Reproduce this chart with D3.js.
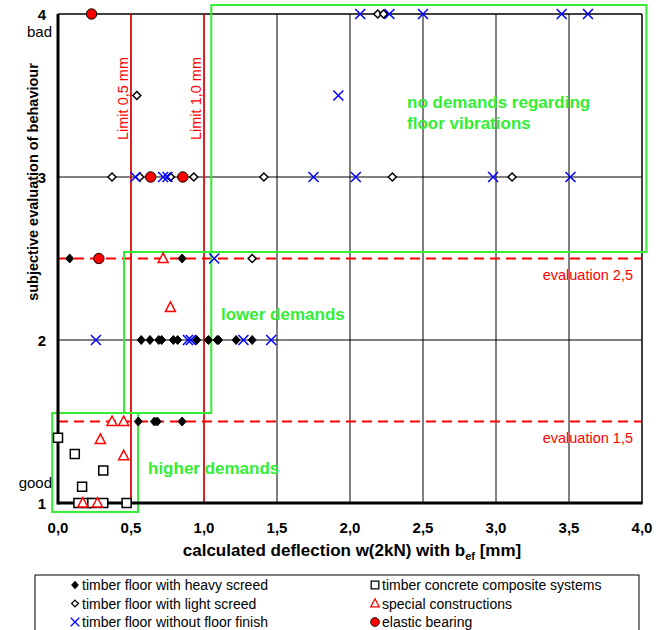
<!DOCTYPE html>
<html>
<head>
<meta charset="utf-8">
<script src="https://cdn.jsdelivr.net/npm/d3@7"></script>
<style>
  body { margin: 0; background: #fff; }
  svg { display: block; font-family: "Liberation Sans", Arial, sans-serif; }
</style>
</head>
<body>
<div id="chart"></div>
<script>
// x ticks and y ticks
var xTicks = [0, 0.5, 1, 1.5, 2, 2.5, 3, 3.5, 4];
var yTicks = [1, 2, 3, 4];

// series as [deflection, evaluation]
var heavyScreed = [
  [0.08, 2.5], [0.85, 2.5],
  [0.57, 2], [0.63, 2], [0.69, 2], [0.71, 2], [0.79, 2], [0.82, 2], [0.95, 2],
  [1.03, 2], [1.09, 2], [1.10, 2], [1.22, 2], [1.33, 2],
  [0.55, 1.5], [0.66, 1.5], [0.68, 1.5], [0.85, 1.5]
];
var lightScreed = [
  [2.19, 4], [2.23, 4],
  [0.54, 3.5],
  [0.37, 3], [0.56, 3], [0.77, 3], [0.93, 3], [1.41, 3], [2.29, 3], [3.11, 3],
  [1.33, 2.5]
];
var noFinish = [
  [2.07, 4], [2.27, 4], [2.50, 4], [3.45, 4], [3.63, 4],
  [1.92, 3.5],
  [0.53, 3], [0.72, 3], [0.75, 3], [1.75, 3], [2.04, 3], [2.98, 3], [3.51, 3],
  [1.07, 2.5],
  [0.26, 2], [0.89, 2], [0.91, 2], [1.27, 2], [1.46, 2]
];
var composite = [
  [0.0, 1.4], [0.115, 1.3], [0.31, 1.2], [0.165, 1.1],
  [0.14, 1], [0.20, 1], [0.235, 1], [0.31, 1], [0.47, 1]
];
var special = [
  [0.72, 2.5], [0.77, 2.2], [0.37, 1.5], [0.45, 1.5], [0.29, 1.39], [0.45, 1.29],
  [0.17, 1], [0.27, 1]
];
var elastic = [[0.23, 4], [0.635, 3], [0.855, 3], [0.28, 2.5]];

// limit lines and zones
var limitX = [0.5, 1.0];
var limitLabels = ["Limit 0,5 mm", "Limit 1,0 mm"];
var evalY = [2.5, 1.5];
var evalLabels = ["evaluation 2,5", "evaluation 1,5"];
// zones: [x0, x1, y0, y1]
var zones = [[1.05, 4.03, 2.54, 4.055], [0.452, 1.05, 1.552, 2.54], [-0.04, 0.548, 0.945, 1.552]];

var legendItems = [
  "timber floor with heavy screed", "timber floor with light screed", "timber floor without floor finish",
  "timber concrete composite systems", "special constructions", "elastic bearing"
];

const width = 670, height = 630;
const green = "#33ee33";
const red = "#ff0000";

const svg = d3.select("#chart").append("svg")
    .attr("width", width)
    .attr("height", height);

const x = d3.scaleLinear().domain([0, 4]).range([58, 642]);
const y = d3.scaleLinear().domain([1, 4]).range([503, 14]);

// gridlines
svg.append("g").selectAll("line")
  .data(xTicks.filter(d => d > 0 && d < 4))
  .join("line")
    .attr("x1", d => x(d)).attr("x2", d => x(d))
    .attr("y1", y(4)).attr("y2", y(1))
    .attr("stroke", "#000").attr("stroke-width", 1);
svg.append("g").selectAll("line")
  .data([2, 3])
  .join("line")
    .attr("x1", x(0)).attr("x2", x(4))
    .attr("y1", d => y(d)).attr("y2", d => y(d))
    .attr("stroke", "#000").attr("stroke-width", 1);

// frame
svg.append("line").attr("x1", x(0)).attr("x2", x(4)).attr("y1", y(4)).attr("y2", y(4))
  .attr("stroke", "#000").attr("stroke-width", 1.5);
svg.append("line").attr("x1", x(4)).attr("x2", x(4)).attr("y1", y(4)).attr("y2", y(1))
  .attr("stroke", "#000").attr("stroke-width", 1.5);

// red limit lines
svg.append("g").selectAll("line")
  .data(limitX)
  .join("line")
    .attr("x1", d => x(d)).attr("x2", d => x(d))
    .attr("y1", y(4)).attr("y2", y(1))
    .attr("stroke", red).attr("stroke-width", 1.5);
svg.append("g").selectAll("text")
  .data(limitX)
  .join("text")
    .attr("transform", d => `translate(${x(d) - 3.5},${57}) rotate(-90)`)
    .attr("text-anchor", "end")
    .attr("fill", red)
    .style("font-size", "14.5px")
    .text((d, i) => limitLabels[i]);

// dashed evaluation lines
svg.append("g").selectAll("line")
  .data(evalY)
  .join("line")
    .attr("x1", x(0)).attr("x2", x(4))
    .attr("y1", d => y(d)).attr("y2", d => y(d))
    .attr("stroke", red).attr("stroke-width", 2)
    .attr("stroke-dasharray", "10,6");
svg.append("g").selectAll("text")
  .data(evalY)
  .join("text")
    .attr("x", 633)
    .attr("y", d => y(d) + 21)
    .attr("text-anchor", "end")
    .attr("fill", red)
    .style("font-size", "14.5px")
    .text((d, i) => evalLabels[i]);

// green zones
svg.append("g").selectAll("rect")
  .data(zones)
  .join("rect")
    .attr("x", d => x(d[0])).attr("y", d => y(d[3]))
    .attr("width", d => x(d[1]) - x(d[0]))
    .attr("height", d => y(d[2]) - y(d[3]))
    .attr("fill", "none")
    .attr("stroke", green).attr("stroke-width", 2);

const zoneText = svg.append("g")
  .attr("fill", green)
  .style("font-size", "17px")
  .style("font-weight", "bold");
zoneText.append("text").attr("x", 407).attr("y", 108).text("no demands regarding");
zoneText.append("text").attr("x", 407).attr("y", 129).text("floor vibrations");
zoneText.append("text").attr("x", 221).attr("y", 320).text("lower demands");
zoneText.append("text").attr("x", 148).attr("y", 474).text("higher demands");

// axes (thick left and bottom)
svg.append("line").attr("x1", x(0)).attr("x2", x(0)).attr("y1", y(4)).attr("y2", y(1) + 1.5)
  .attr("stroke", "#000").attr("stroke-width", 3);
svg.append("line").attr("x1", x(0)).attr("x2", x(4) + 0.75).attr("y1", y(1)).attr("y2", y(1))
  .attr("stroke", "#000").attr("stroke-width", 3);

svg.append("g").selectAll("text")
  .data(xTicks)
  .join("text")
    .attr("x", d => x(d))
    .attr("y", 533)
    .attr("text-anchor", "middle")
    .style("font-size", "15px")
    .style("font-weight", "bold")
    .text(d => d3.format(".1f")(d).replace(".", ","));
svg.append("g").selectAll("text")
  .data(yTicks)
  .join("text")
    .attr("x", 46)
    .attr("y", d => y(d) + 5.5)
    .attr("text-anchor", "end")
    .style("font-size", "15px")
    .style("font-weight", "bold")
    .text(d => d);
svg.append("text").attr("x", 52).attr("y", 37).attr("text-anchor", "end")
  .style("font-size", "15px").text("bad");
svg.append("text").attr("x", 52).attr("y", 488).attr("text-anchor", "end")
  .style("font-size", "15px").text("good");

// axis titles
const xTitle = svg.append("text")
  .attr("x", 352).attr("y", 556)
  .attr("text-anchor", "middle")
  .style("font-size", "17px").style("font-weight", "bold");
xTitle.append("tspan").text("calculated deflection w(2kN) with b");
xTitle.append("tspan").attr("dy", 4).style("font-size", "11px").text("ef");
xTitle.append("tspan").attr("dy", -4).text(" [mm]");

svg.append("text")
  .attr("transform", "translate(38,182) rotate(-90)")
  .attr("text-anchor", "middle")
  .style("font-size", "14.5px").style("font-weight", "bold")
  .text("subjective evaluation of behaviour");

// marker shapes
const shapes = {
  heavy: { d: "M0,-4.5L4,0L0,4.5L-4,0Z", fill: "#000", stroke: "#000", sw: 1 },
  light: { d: "M0,-4L4,0L0,4L-4,0Z", fill: "#fff", stroke: "#000", sw: 1.5 },
  cross: { d: "M-5,-5L5,5M-5,5L5,-5", fill: "none", stroke: "#0000ff", sw: 1.5 },
  square: { d: "M-4.5,-4.5H4.5V4.5H-4.5Z", fill: "#fff", stroke: "#000", sw: 1.5 },
  triangle: { d: "M0,-5.5L5,4L-5,4Z", fill: "#fff", stroke: red, sw: 1.5 },
  circle: { d: d3.symbol(d3.symbolCircle, Math.PI * 27)(), fill: red, stroke: "#000", sw: 1 }
};

function drawSeries(data, s) {
  svg.append("g").selectAll("path")
    .data(data)
    .join("path")
      .attr("transform", d => `translate(${x(d[0])},${y(d[1])})`)
      .attr("d", s.d)
      .attr("fill", s.fill)
      .attr("stroke", s.stroke)
      .attr("stroke-width", s.sw);
}
drawSeries(composite, shapes.square);
drawSeries(lightScreed, shapes.light);
drawSeries(heavyScreed, shapes.heavy);
drawSeries(special, shapes.triangle);
drawSeries(noFinish, shapes.cross);
drawSeries(elastic, shapes.circle);

// legend
const legend = svg.append("g");
legend.append("rect")
  .attr("x", 35).attr("y", 575).attr("width", 604).attr("height", 70)
  .attr("fill", "#fff").attr("stroke", "#000").attr("stroke-width", 1);
const legendShapes = [shapes.heavy, shapes.light, shapes.cross, shapes.square, shapes.triangle, shapes.circle];
legendItems.forEach((label, i) => {
  const col = Math.floor(i / 3), row = i % 3;
  const lx = col === 0 ? 75 : 375;
  const ly = 585 + row * 18.5;
  const s = legendShapes[i];
  legend.append("path")
    .attr("transform", `translate(${lx},${ly}) scale(0.85)`)
    .attr("d", s.d).attr("fill", s.fill).attr("stroke", s.stroke).attr("stroke-width", s.sw);
  legend.append("text")
    .attr("x", lx + 7).attr("y", ly + 5)
    .style("font-size", "14px")
    .text(label);
});
</script>
</body>
</html>
